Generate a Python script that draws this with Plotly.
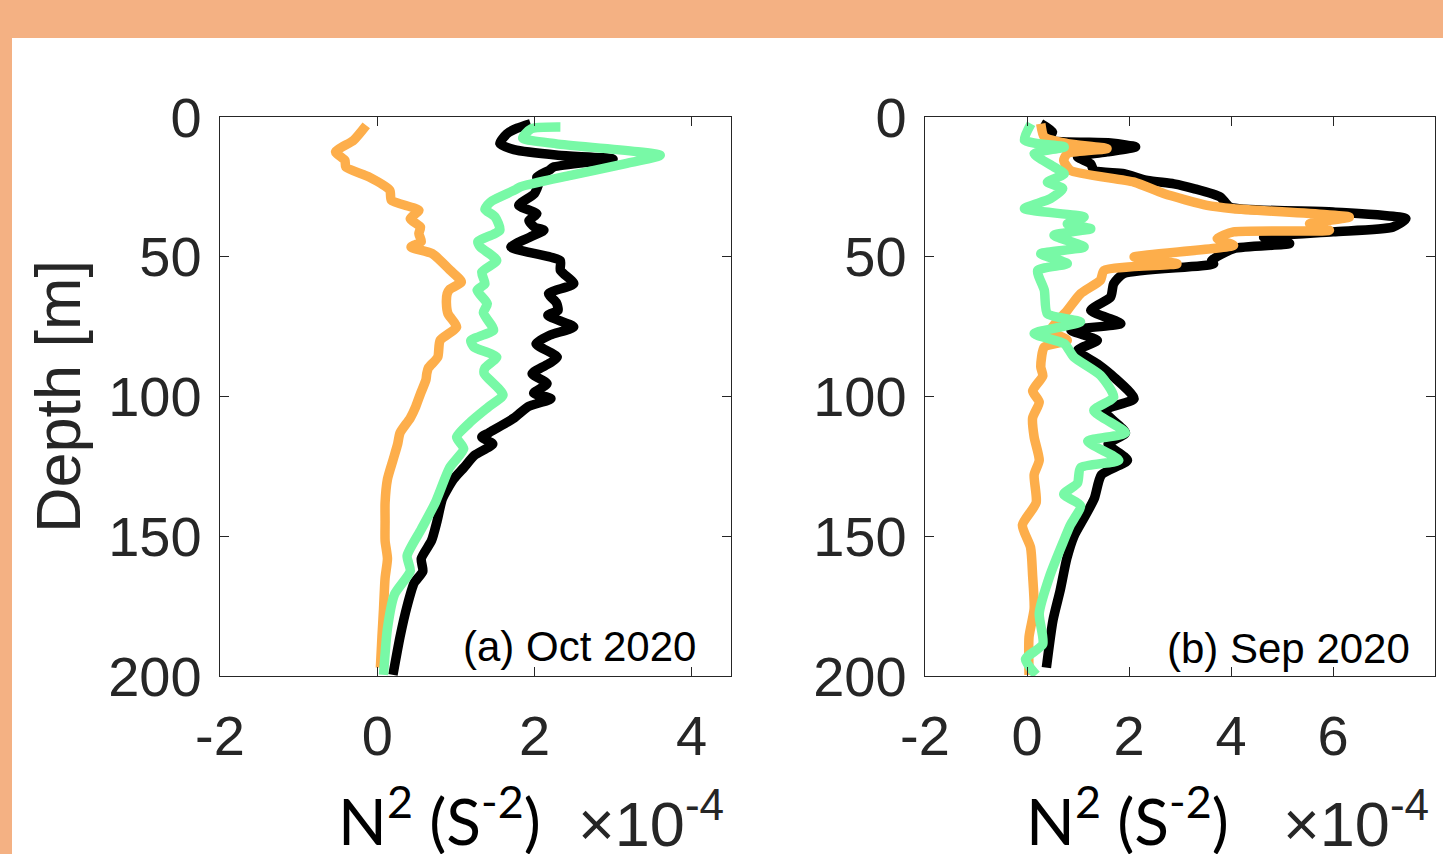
import plotly.graph_objects as go

# ---------------- data (N^2 in units of 1e-4 s^-2, depth in m) ----------------
oct_orange_depth = [3.0, 8.3, 12.5, 15.5, 17.9, 21.5, 26.2, 29.8, 33.4, 36.4, 39.4, 41.7, 44.6, 46.5, 48.9,
                    54.9, 59.0, 61.7, 63.2, 66.5, 70.4, 75.1, 79.9, 85.9, 89.8, 91.8, 94.0, 99.0, 103.6,
                    107.7, 113.0, 117.0, 122.8, 129.6, 138.0, 144.7, 151.6, 158.0, 165.0, 176.0, 186.0, 197.0]
oct_orange_n2 = [-0.14, -0.30, -0.53, -0.41, -0.40, -0.10, 0.16, 0.18, 0.53, 0.42, 0.55, 0.53, 0.56, 0.43, 0.70,
                 0.93, 1.07, 0.92, 0.89, 0.88, 0.90, 1.01, 0.80, 0.77, 0.65, 0.63, 0.62, 0.55, 0.49,
                 0.42, 0.29, 0.26, 0.20, 0.13, 0.10, 0.10, 0.10, 0.13, 0.10, 0.08, 0.06, 0.04]

oct_black_depth = [2.4, 4.0, 6.0, 9.5, 11.7, 13.7, 15.0, 17.9, 19.0, 21.5, 24.0, 27.4, 31.6, 34.6, 37.0, 39.4,
                   40.5, 43.0, 46.5, 50.1, 51.4, 54.9, 59.6, 63.2, 66.5, 69.2, 71.0, 75.1, 78.0, 81.1, 85.9,
                   88.0, 91.8, 95.4, 98.8, 100.8, 103.6, 107.7, 113.0, 114.5, 117.0, 121.0, 125.5, 129.6,
                   136.5, 144.7, 151.6, 158.0, 162.5, 166.7, 175.0, 186.0, 199.6]
oct_black_n2 = [1.95, 1.78, 1.65, 1.56, 1.74, 2.30, 3.00, 2.24, 2.19, 2.03, 2.05, 2.00, 1.80, 2.03, 1.93, 2.00,
                2.12, 1.94, 1.70, 2.20, 2.33, 2.33, 2.50, 2.18, 2.28, 2.30, 2.17, 2.50, 2.20, 2.02, 2.29,
                2.20, 1.97, 2.16, 1.99, 2.21, 1.92, 1.74, 1.42, 1.33, 1.47, 1.24, 1.10, 0.97,
                0.83, 0.76, 0.69, 0.56, 0.58, 0.47, 0.38, 0.29, 0.20]

oct_green_depth = [3.6, 4.2, 7.5, 9.6, 13.7, 16.7, 20.9, 25.0, 26.0, 30.0, 31.6, 33.0, 35.8, 40.5, 44.6, 46.5,
                   51.3, 55.5, 59.7, 62.0, 66.8, 70.0, 74.8, 76.3, 80.0, 82.3, 85.9, 89.8, 91.8, 99.4, 103.6,
                   109.0, 114.5, 118.7, 125.5, 137.9, 147.5, 157.0, 162.5, 170.8, 183.0, 199.6]
oct_green_n2 = [2.33, 1.96, 1.85, 2.28, 3.60, 3.16, 2.46, 1.82, 1.76, 1.46, 1.40, 1.37, 1.50, 1.56, 1.28, 1.31,
                1.52, 1.33, 1.37, 1.27, 1.40, 1.35, 1.46, 1.48, 1.19, 1.23, 1.52, 1.37, 1.36, 1.60, 1.42,
                1.19, 1.01, 1.10, 0.92, 0.74, 0.56, 0.38, 0.42, 0.22, 0.13, 0.08]

sep_black_depth = [2.4, 5.4, 8.1, 9.3, 10.7, 12.5, 14.3, 16.7, 19.1, 20.3, 22.7, 23.9, 25.6, 28.6, 32.2, 34.0,
                   36.4, 39.4, 41.1, 43.0, 45.3, 47.1, 51.4, 52.5, 56.0, 59.6, 64.4, 69.2, 73.9, 76.3, 79.9,
                   83.5, 88.3, 93.0, 100.8, 105.0, 113.0, 117.0, 122.8, 128.0, 136.5, 143.4, 150.0, 158.0,
                   169.4, 180.0, 197.0]
sep_black_n2 = [0.27, 0.50, 0.40, 1.64, 2.13, 1.57, 0.99, 1.25, 1.31, 1.90, 2.36, 2.88, 3.27, 3.79, 3.98, 6.00,
                7.43, 7.17, 6.00, 4.64, 5.15, 4.05, 3.62, 3.66, 1.90, 1.70, 1.64, 1.25, 1.84, 0.86, 1.38,
                0.99, 1.38, 1.70, 2.10, 1.51, 1.93, 1.59, 1.97, 1.46, 1.32, 1.12, 0.92, 0.78,
                0.65, 0.51, 0.38]

sep_orange_depth = [2.4, 7.2, 9.5, 11.3, 13.1, 15.5, 19.1, 23.3, 27.4, 31.6, 32.8, 35.8, 38.2, 40.5, 41.1,
                    43.5, 45.9, 50.1, 52.5, 54.9, 58.4, 63.2, 69.2, 76.3, 79.9, 82.3, 89.4, 92.6, 98.0, 102.0,
                    107.7, 114.5, 122.8, 128.0, 138.0, 146.0, 154.0, 164.0, 176.0, 186.0, 199.6]
sep_orange_n2 = [0.27, 0.34, 0.79, 1.57, 0.79, 0.72, 0.85, 2.10, 2.68, 3.53, 4.05, 6.32, 5.54, 5.93, 4.05,
                 3.73, 4.05, 2.10, 2.94, 1.51, 1.44, 1.05, 0.79, 0.47, 0.79, 0.34, 0.27, 0.31, 0.11, 0.24,
                 0.11, 0.14, 0.24, 0.14, 0.18, -0.09, 0.07, 0.11, 0.14, 0.04, 0.04]

sep_green_depth = [2.4, 8.3, 10.7, 13.1, 17.9, 20.3, 23.3, 25.6, 29.2, 32.8, 35.8, 38.2, 40.0, 42.3, 46.5,
                   48.9, 52.5, 54.9, 62.0, 70.4, 73.3, 77.5, 81.1, 85.9, 92.4, 100.2, 105.0, 113.0, 116.0,
                   122.8, 125.5, 131.0, 135.0, 139.0, 146.0, 151.6, 164.0, 177.6, 188.6, 194.0, 199.6]
sep_green_n2 = [0.08, -0.05, 0.73, 0.14, 0.53, 0.73, 0.40, 0.70, 0.46, -0.05, 1.12, 0.79, 1.25, 0.53, 1.12,
                0.27, 0.79, 0.21, 0.34, 0.40, 1.05, 0.14, 0.73, 0.92, 1.44, 1.70, 1.31, 1.93, 1.19,
                1.80, 1.05, 0.99, 0.72, 1.05, 0.85, 0.72, 0.45, 0.24, 0.31, -0.03, 0.18]

x_ticks_a = [-2, 0, 2, 4]
x_labels_a = ["-2", "0", "2", "4"]
x_ticks_b = [-2, 0, 2, 4, 6]
x_labels_b = ["-2", "0", "2", "4", "6"]
y_ticks = [0, 50, 100, 150, 200]
y_labels = ["0", "50", "100", "150", "200"]
panel_labels = ["(a) Oct 2020", "(b) Sep 2020"]

ORANGE = "#FDAE4B"
GREEN = "#78F9A6"
BLACK = "#000000"
AXC = "#262626"

W, H = 1443, 854

def px(x):
    return x / W

def py(y):
    return 1 - y / H

fig = go.Figure()

def add_line(x, y, color, xa, ya):
    fig.add_trace(go.Scatter(x=x, y=y, mode="lines", xaxis=xa, yaxis=ya,
                             line=dict(color=color, width=9.5, shape="spline", smoothing=0.6),
                             showlegend=False, hoverinfo="skip"))

add_line(oct_orange_n2, oct_orange_depth, ORANGE, "x", "y")
add_line(oct_black_n2, oct_black_depth, BLACK, "x", "y")
add_line(oct_green_n2, oct_green_depth, GREEN, "x", "y")
add_line(sep_black_n2, sep_black_depth, BLACK, "x2", "y2")
add_line(sep_orange_n2, sep_orange_depth, ORANGE, "x2", "y2")
add_line(sep_green_n2, sep_green_depth, GREEN, "x2", "y2")

tickfont = dict(family="Liberation Sans, Arial", size=56, color=AXC)
common_ax = dict(showline=True, linecolor=AXC, linewidth=1.3, mirror="allticks",
                 ticks="inside", ticklen=9, tickcolor=AXC, tickwidth=1.2,
                 showgrid=False, zeroline=False, tickfont=tickfont, automargin=False)

ydom = [py(676), py(117)]
fig.update_layout(
    width=W, height=H,
    margin=dict(l=0, r=0, t=0, b=0, pad=0, autoexpand=False),
    paper_bgcolor="#F4B183",
    plot_bgcolor="white",
    xaxis=dict(domain=[px(220), px(731)], range=[-2, 4.5], tickvals=x_ticks_a, ticktext=x_labels_a,
               ticklabelstandoff=11, anchor="y", **common_ax),
    yaxis=dict(domain=ydom, range=[200, 0], tickvals=y_ticks, ticktext=y_labels, ticklabelstandoff=6,
               anchor="x", **common_ax),
    xaxis2=dict(domain=[px(925), px(1435)], range=[-2, 8], tickvals=x_ticks_b, ticktext=x_labels_b,
                ticklabelstandoff=11, anchor="y2", **common_ax),
    yaxis2=dict(domain=ydom, range=[200, 0], tickvals=y_ticks, ticktext=y_labels, ticklabelstandoff=6,
                anchor="x2", **common_ax),
    shapes=[dict(type="rect", xref="paper", yref="paper", x0=px(12), x1=1.0, y0=0, y1=py(38),
                 fillcolor="white", line=dict(width=0), layer="below")],
)

ann = []
ann.append(dict(text="Depth [m]", x=px(58), y=py(397), xref="paper", yref="paper",
                textangle=-90, showarrow=False, xanchor="center", yanchor="middle",
                font=dict(family="Liberation Sans, Arial", size=63, color=AXC)))
ann.append(dict(text=panel_labels[0], x=px(698), y=py(646), xref="paper", yref="paper",
                showarrow=False, xanchor="right", yanchor="middle",
                font=dict(family="Liberation Sans, Arial", size=42, color="black")))
ann.append(dict(text=panel_labels[1], x=px(1412), y=py(648), xref="paper", yref="paper",
                showarrow=False, xanchor="right", yanchor="middle",
                font=dict(family="Liberation Sans, Arial", size=42, color="black")))
for left in (336, 1024):
    ann.append(dict(text="N<sup>2</sup> (S<sup>-2</sup>)", x=px(left), y=py(816), xref="paper", yref="paper",
                    showarrow=False, xanchor="left", yanchor="middle",
                    font=dict(family="Lato, Noto Sans", size=64, color="black")))
for left in (576, 1281):
    ann.append(dict(text="\u00d710<sup>-4</sup>", x=px(left), y=py(819), xref="paper", yref="paper",
                    showarrow=False, xanchor="left", yanchor="middle",
                    font=dict(family="Liberation Sans, Arial", size=63, color=AXC)))
fig.update_layout(annotations=ann)

fig.write_html("out.html")
